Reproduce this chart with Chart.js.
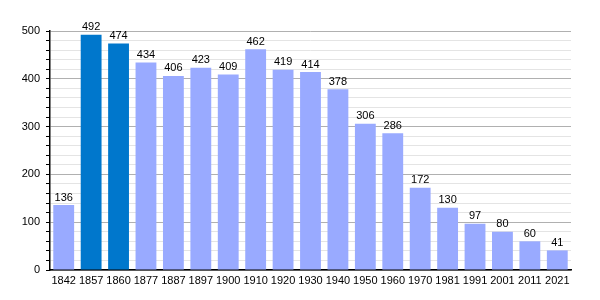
<!DOCTYPE html>
<html>
<head>
<meta charset="utf-8">
<script src="https://cdn.jsdelivr.net/npm/chart.js@4"></script>
<style>
  html, body { margin: 0; padding: 0; background: #fff; }
  #wrap { width: 600px; height: 300px; }
</style>
</head>
<body>
<div id="wrap"><canvas id="chart"></canvas></div>
<script>
// population by census year
const years = ['1842', '1857', '1860', '1877', '1887', '1897', '1900', '1910', '1920', '1930', '1940',
    '1950', '1960', '1970', '1981', '1991', '2001', '2011', '2021'];
const population = [136, 492, 474, 434, 406, 423, 409, 462, 419, 414, 378,
    306, 286, 172, 130, 97, 80, 60, 41];
const highlighted = ['1857', '1860'];

const lightBlue = '#99aaff';
const darkBlue = '#0077cc';

// values written above each bar
const valueLabels = {
    id: 'valueLabels',
    afterDatasetsDraw(chart) {
        const ctx = chart.ctx;
        const meta = chart.getDatasetMeta(0);
        ctx.save();
        ctx.font = '11px "Liberation Sans", Arial, sans-serif';
        ctx.fillStyle = '#000';
        ctx.textAlign = 'center';
        ctx.textBaseline = 'bottom';
        meta.data.forEach((bar, i) => {
            ctx.fillText(population[i], bar.x, bar.y - 2);
        });
        ctx.restore();
    }
};

new Chart(document.getElementById('chart'), {
    type: 'bar',
    data: {
        labels: years,
        datasets: [{
            data: population,
            backgroundColor: years.map(y => highlighted.includes(y) ? darkBlue : lightBlue),
            borderWidth: 0,
            barPercentage: 0.76,
            categoryPercentage: 1
        }]
    },
    options: {
        responsive: true,
        maintainAspectRatio: false,
        animation: false,
        layout: { padding: { top: 31, right: 29, left: 0, bottom: 0 } },
        plugins: { legend: { display: false }, tooltip: { enabled: false } },
        scales: {
            x: {
                grid: { display: false, drawTicks: false },
                border: { color: '#000', width: 1.5 },
                ticks: {
                    color: '#000',
                    font: { family: '"Liberation Sans", Arial, sans-serif', size: 11 },
                    padding: 4,
                    maxRotation: 0,
                    autoSkip: false
                },
                afterFit: (s) => { s.height = 30; }
            },
            y: {
                min: 0,
                max: 500,
                ticks: {
                    stepSize: 20,
                    autoSkip: false,
                    color: '#000',
                    font: { family: '"Liberation Sans", Arial, sans-serif', size: 11 },
                    padding: 6,
                    callback: (v) => v % 100 === 0 ? v : ''
                },
                grid: {
                    color: (c) => c.tick && c.tick.value % 100 === 0 ? '#b0b0b0' : '#e4e4e4',
                    tickColor: '#000',
                    tickLength: 4,
                    lineWidth: 1
                },
                border: { color: '#000', width: 1.5 },
                afterFit: (s) => { s.width = 50; }
            }
        }
    },
    plugins: [valueLabels]
});
</script>
</body>
</html>
